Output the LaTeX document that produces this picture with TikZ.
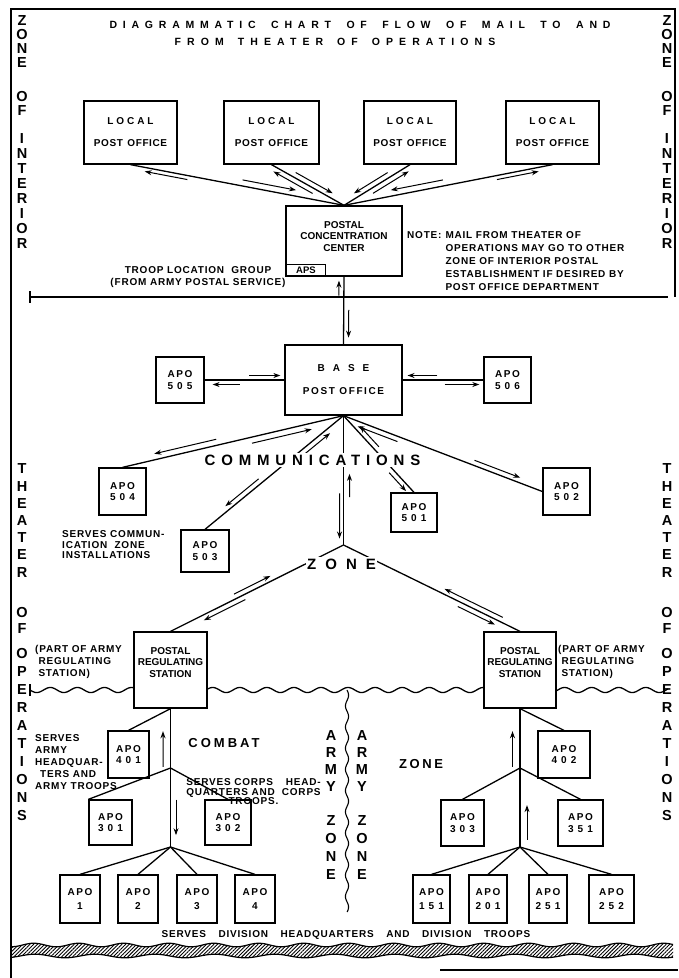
\documentclass[tikz,border=0pt]{standalone}
\usepackage{fontspec}
\setmainfont{Liberation Sans}
\newfontfamily\ftx{Liberation Sans}[LetterSpace=8]
\usetikzlibrary{arrows.meta,calc,patterns.meta}
\newcommand\lsp[3]{{\addfontfeatures{LetterSpace=#1}\spaceskip=#2pt\relax #3}}
\newcommand\bx[7]{\node[box,#1, minimum width={(#5)-(#3)}, minimum height={(#6)-(#4)}] (#2) at ({((#3)+(#5))/2},{((#4)+(#6))/2}) {#7};}
\newcommand\parr[6]{\draw[arr] ($(#1)!#3!(#2)!#5!#6:(#2)$) -- ($(#1)!#4!(#2)!#5!#6:(#2)$);}
\newcommand\apo[1]{\lsp{16}{3}{APO}\\\lsp{40}{3}{#1}}
\newcommand\apob[1]{\lsp{16}{3}{APO}\\[2pt]\lsp{40}{3}{#1}}
\newcommand\lpo{\lsp{29}{3}{LOCAL}\\[10.5pt]\lsp{6}{4.5}{POST OFFICE}}
\tikzset{
 box/.style={draw, line width=1.3pt, fill=white, inner sep=0pt, align=center, font=\fontsize{10}{11.5}\selectfont\bfseries},
 ln/.style={line width=1.3pt},
 arr/.style={line width=1pt, -{Stealth[length=7pt,width=5pt]}},
 vcol/.style={align=center, inner sep=0pt, font=\fontsize{14.5}{#1}\selectfont\bfseries},
 txt/.style={inner sep=0pt, font=\ftx\fontsize{10}{12}\selectfont\bfseries},
 big/.style={inner sep=0pt, font=\fontsize{13}{15}\selectfont\bfseries},
}
\begin{document}
\begin{tikzpicture}[x=1pt,y=-1pt]
\useasboundingbox (0,0) rectangle (678,978);
% frame and zone boundaries
\draw[line width=1.3pt] (11,978) -- (11,9) -- (675,9) -- (675,297);
\draw[ln] (30,297) -- (668,297);
\draw[ln] (30,291) -- (30,303);
\draw[line width=1.3pt] plot[domain=30:668,samples=260,smooth] (\x,{690+2.6*sin(13.3*(\x-30))});
\draw[ln] (30,684) -- (30,696);
\draw[line width=1.1pt] plot[domain=690:912,samples=110,smooth] ({347+1.6*sin(17*(\x-690))},\x);
\fill[pattern={Lines[angle=45,distance=2.6pt,line width=0.9pt]}] plot[domain=12:673,samples=140,smooth] (\x,{945+1.8*sin(8*\x)}) -- plot[domain=673:12,samples=140,smooth] (\x,{956+1.8*sin(6*\x+60)}) -- cycle;
\draw[line width=1.2pt] plot[domain=12:673,samples=140,smooth] (\x,{945+1.8*sin(8*\x)});
\draw[line width=1.2pt] plot[domain=12:673,samples=140,smooth] (\x,{956+1.8*sin(6*\x+60)});
\draw[line width=1.6pt] (440,970) -- (678,970);
% junctions
\coordinate (zj) at (343.5,545);
\coordinate (j1) at (170.5,768);
\coordinate (j2) at (170.5,847);
\coordinate (j3) at (520,768);
\coordinate (j4) at (520,847);
% boxes
\bx{}{lp1}{84}{101}{177}{164}{\lpo}
\bx{}{lp2}{224}{101}{319}{164}{\lpo}
\bx{}{lp3}{364}{101}{456}{164}{\lpo}
\bx{}{lp4}{506}{101}{599}{164}{\lpo}
\bx{text depth=9pt}{pcc}{286}{206}{402}{276}{POSTAL\\CONCENTRATION\\CENTER}
\node[draw, line width=1pt, fill=white, inner sep=0pt, minimum width=39, minimum height=11, anchor=south west, font=\fontsize{9.5}{9.5}\selectfont\bfseries] (aps) at (286,276) {APS};
\bx{}{base}{285}{345}{402}{415}{\lsp{80}{3}{BASE}\\[11.5pt]\lsp{16}{4.5}{POST OFFICE}}
\bx{}{apo505}{156}{357}{204}{403}{\apo{505}}
\bx{}{apo506}{484}{357}{531}{403}{\apo{506}}
\bx{}{apo504}{99}{468}{146}{515}{\apo{504}}
\bx{}{apo503}{181}{530}{229}{572}{\apo{503}}
\bx{}{apo501}{391}{493}{437}{532}{\apo{501}}
\bx{}{apo502}{543}{468}{590}{515}{\apo{502}}
\bx{text depth=16pt}{prsL}{134}{632}{207}{708}{POSTAL\\REGULATING\\STATION}
\bx{text depth=16pt}{prsR}{484}{632}{556}{708}{POSTAL\\REGULATING\\STATION}
\bx{}{apo401}{108}{731}{149}{778}{\apo{401}}
\bx{}{apo402}{538}{731}{590}{778}{\apo{402}}
\bx{}{apo301}{89}{800}{132}{845}{\apo{301}}
\bx{}{apo302}{205}{800}{251}{845}{\apo{302}}
\bx{}{apo303}{441}{800}{484}{846}{\apo{303}}
\bx{}{apo351}{558}{800}{603}{846}{\apo{351}}
\bx{}{apo1}{60}{875}{100}{923}{\apob{1}}
\bx{}{apo2}{118}{875}{158}{923}{\apob{2}}
\bx{}{apo3}{177}{875}{217}{923}{\apob{3}}
\bx{}{apo4}{235}{875}{275}{923}{\apob{4}}
\bx{}{apo151}{413}{875}{450}{923}{\apob{151}}
\bx{}{apo201}{469}{875}{507}{923}{\apob{201}}
\bx{}{apo251}{529}{875}{567}{923}{\apob{251}}
\bx{}{apo252}{589}{875}{634}{923}{\apob{252}}
% connectors
\foreach \n in {lp1,lp2,lp3,lp4} \draw[ln] (\n.south) -- (pcc.north);
\draw[ln] (pcc.south) -- (base.north);
\draw[ln] (apo505) -- (base);
\draw[ln] (base) -- (apo506);
\draw[ln] (base.south) -- (apo504.north);
\draw[ln] (base.south) -- (apo503.north);
\draw[ln] (base.south) -- (apo501.north);
\draw[ln] (base.south) -- (apo502.west);
\draw[ln] (base.south) -- (zj);
\draw[ln] (zj) -- (prsL.north);
\draw[ln] (zj) -- (prsR.north);
\draw[ln] (prsL.south) -- (j1) -- (j2);
\draw[ln] (prsL.south) -- (apo401.north);
\draw[ln] (j1) -- (apo301.north west);
\draw[ln] (j1) -- (apo302.north);
\foreach \n in {apo1,apo2,apo3,apo4} \draw[ln] (j2) -- (\n.north);
\draw[ln] (prsR.south) -- (j3) -- (j4);
\draw[ln] (prsR.south) -- (apo402.north);
\draw[ln] (j3) -- (apo303.north);
\draw[ln] (j3) -- (apo351.north);
\foreach \n in {apo151,apo201,apo251,apo252} \draw[ln] (j4) -- (\n.north);
% direction arrows
\parr{lp1.south}{pcc.north}{0.52}{0.77}{6pt}{90}
\parr{lp1.south}{pcc.north}{0.27}{0.07}{4pt}{-90}
\parr{lp2.south}{pcc.north}{0.30}{0.81}{5pt}{90}
\parr{lp2.south}{pcc.north}{0.60}{0.06}{5pt}{-90}
\parr{lp3.south}{pcc.north}{0.30}{0.81}{5pt}{-90}
\parr{lp3.south}{pcc.north}{0.60}{0.06}{5pt}{90}
\parr{lp4.south}{pcc.north}{0.52}{0.77}{6pt}{-90}
\parr{lp4.south}{pcc.north}{0.27}{0.07}{4pt}{90}
\parr{pcc.south}{base.north}{0.28}{0.06}{5pt}{-90}
\parr{pcc.south}{base.north}{0.49}{0.90}{5pt}{90}
\parr{apo505.east}{base.west}{0.56}{0.95}{4.5pt}{90}
\parr{apo505.east}{base.west}{0.44}{0.10}{4.5pt}{-90}
\parr{apo506.west}{base.east}{0.57}{0.94}{4.5pt}{-90}
\parr{apo506.west}{base.east}{0.48}{0.05}{4.5pt}{90}
\parr{apo504.north}{base.south}{0.43}{0.15}{6pt}{90}
\parr{apo504.north}{base.south}{0.58}{0.85}{6pt}{-90}
\parr{apo503.north}{base.south}{0.41}{0.17}{5pt}{90}
\parr{apo503.north}{base.south}{0.70}{0.88}{5pt}{-90}
\parr{apo501.north}{base.south}{0.30}{0.06}{5pt}{90}
\parr{apo501.north}{base.south}{0.55}{0.82}{5pt}{-90}
\parr{apo502.west}{base.south}{0.72}{0.92}{5pt}{90}
\parr{apo502.west}{base.south}{0.35}{0.12}{5pt}{-90}
\parr{base.south}{zj}{0.63}{0.45}{6pt}{90}
\parr{base.south}{zj}{0.60}{0.95}{4pt}{-90}
\parr{prsL.north}{zj}{0.38}{0.59}{5pt}{90}
\parr{prsL.north}{zj}{0.42}{0.18}{5pt}{-90}
\parr{prsR.north}{zj}{0.11}{0.44}{5pt}{-90}
\parr{prsR.north}{zj}{0.34}{0.13}{5pt}{90}
\parr{prsL.south}{j1}{0.98}{0.38}{7.5pt}{-90}
\parr{j1}{j2}{0.40}{0.85}{5.5pt}{90}
\parr{prsR.south}{j3}{0.98}{0.38}{7.5pt}{-90}
\parr{j3}{j4}{0.91}{0.47}{7pt}{90}
% big labels on lines
\node[big, fill=white, inner sep=1.5pt, font=\fontsize{15}{17}\selectfont\bfseries] (comm) at (312.5,460) {\lsp{39}{4}{COMMUNICATIONS}};
\node[big, fill=white, inner sep=1.5pt, font=\fontsize{15}{17}\selectfont\bfseries] (czone) at (341.5,564) {\lsp{60}{4}{ZONE}};
\node[big] (combat) at (224,743) {\lsp{23}{4}{COMBAT}};
\node[big] (zone2) at (421,764) {\lsp{20}{4}{ZONE}};
% title
\node[inner sep=0pt, font=\fontsize{10.5}{12}\selectfont\bfseries] (title1) at (360,25) {\lsp{55}{15.5}{DIAGRAMMATIC CHART OF FLOW OF MAIL TO AND}};
\node[inner sep=0pt, font=\fontsize{10.5}{12}\selectfont\bfseries] (title2) at (335,42) {\lsp{58}{14}{FROM THEATER OF OPERATIONS}};
% side columns
\foreach \xx/\s in {22/L,667/R}{
 \node[vcol=13.7] (zone\s) at (\xx,41.5) {Z\\O\\N\\E};
 \node[vcol=14] (of\s) at (\xx,103) {O\\F};
 \node[vcol=14.9] (interior\s) at (\xx,191) {I\\N\\T\\E\\R\\I\\O\\R};
 \node[vcol=17.2] (theater\s) at (\xx,520.5) {T\\H\\E\\A\\T\\E\\R};
 \node[vcol=16] (oft\s) at (\xx,620) {O\\F};
 \node[vcol=18] (operations\s) at (\xx,734) {O\\P\\E\\R\\A\\T\\I\\O\\N\\S};
}
\node[vcol=17.3] (armyL) at (331,761) {A\\R\\M\\Y};
\node[vcol=18.3] (azoneL) at (331,847.5) {Z\\O\\N\\E};
\node[vcol=17.3] (armyR) at (362,761) {A\\R\\M\\Y};
\node[vcol=18.3] (azoneR) at (362,847.5) {Z\\O\\N\\E};
% small texts
\node[txt, align=center] (troop) at (198,277) {TROOP LOCATION\ \ GROUP\\(FROM ARMY POSTAL SERVICE)};
\node[txt, anchor=north west, font=\ftx\fontsize{10}{13}\selectfont\bfseries] (note) at (407,229) {\begin{tabular}{@{}l@{\hspace{4pt}}l@{}}NOTE: & MAIL FROM THEATER OF\\ & OPERATIONS MAY GO TO OTHER\\ & ZONE OF INTERIOR POSTAL\\ & ESTABLISHMENT IF DESIRED BY\\ & POST OFFICE DEPARTMENT\end{tabular}};
\node[txt, align=left, anchor=west, font=\ftx\fontsize{10}{10.5}\selectfont\bfseries] (servcom) at (62,545) {SERVES COMMUN-\\ICATION\ \ ZONE\\INSTALLATIONS};
\node[txt, align=left, anchor=west] (partL) at (35,662) {(PART OF ARMY\\\phantom{(}REGULATING\\\phantom{(}STATION)};
\node[txt, align=left, anchor=west] (partR) at (558,662) {(PART OF ARMY\\\phantom{(}REGULATING\\\phantom{(}STATION)};
\node[txt, align=left, anchor=west] (servarmy) at (35,762) {SERVES\\ARMY\\HEADQUAR-\\\hspace{5pt}TERS AND\\ARMY TROOPS};
\node[txt, font=\ftx\fontsize{10}{8.6}\selectfont\bfseries] (corps) at (253.5,793) {\begin{tabular}{@{}l@{\hspace{7pt}}r@{}}SERVES CORPS & HEAD-\\QUARTERS AND & CORPS\\\multicolumn{2}{c}{TROOPS.}\end{tabular}};
\node[txt] (servdiv) at (346,935) {\lsp{8}{12.5}{SERVES DIVISION HEADQUARTERS AND DIVISION TROOPS}};
\end{tikzpicture}
\end{document}
